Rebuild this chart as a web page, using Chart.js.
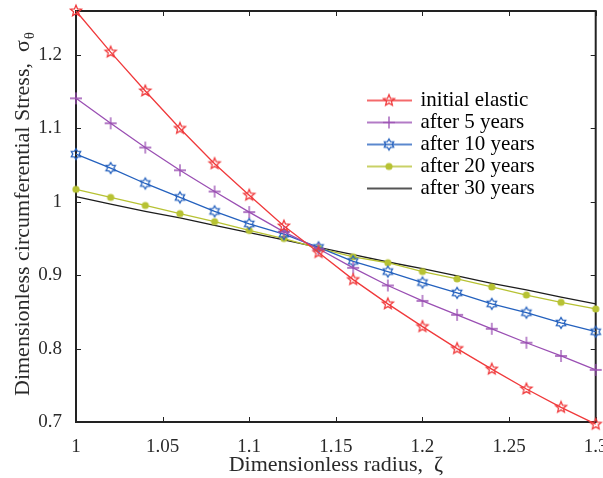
<!DOCTYPE html>
<html>
<head>
<meta charset="utf-8">
<script src="https://cdn.jsdelivr.net/npm/chart.js@4.4.1/dist/chart.umd.min.js"></script>
<style>
    html, body { margin: 0; padding: 0; background: #fff; overflow: hidden; }
    #wrap { width: 603px; height: 478px; }
</style>
</head>
<body>
<div id="wrap"><canvas id="StressChart"></canvas></div>
<script>
    // values
    var radius = [1, 1.02, 1.04, 1.06, 1.08, 1.10, 1.12, 1.14, 1.16, 1.18, 1.20, 1.22, 1.24, 1.26, 1.28, 1.30];
    var initialElastic = [1.260, 1.204, 1.151, 1.100, 1.052, 1.009, 0.967, 0.931, 0.894, 0.861, 0.830, 0.800, 0.772, 0.745, 0.720, 0.697];
    var after5Years  = [1.141, 1.107, 1.074, 1.043, 1.014, 0.986, 0.959, 0.936, 0.910, 0.886, 0.865, 0.846, 0.827, 0.808, 0.790, 0.771];
    var after10Years = [1.065, 1.046, 1.025, 1.006, 0.987, 0.970, 0.956, 0.938, 0.919, 0.905, 0.890, 0.876, 0.861, 0.849, 0.835, 0.823];
    var after20Years = [1.017, 1.006, 0.995, 0.984, 0.973, 0.961, 0.950, 0.937, 0.925, 0.917, 0.905, 0.895, 0.884, 0.873, 0.863, 0.854];
    var after30Years = [1.007, 0.997, 0.987, 0.978, 0.968, 0.958, 0.948, 0.938, 0.928, 0.918, 0.909, 0.899, 0.889, 0.880, 0.870, 0.861];
    var xTicks = [1, 1.05, 1.1, 1.15, 1.2, 1.25, 1.3];
    var yTicks = [0.7, 0.8, 0.9, 1, 1.1, 1.2];

    var RED = '#f0393b', PURPLE = '#9a4fb3', BLUE = '#2461be', OLIVE = '#b7c233', BLACK = '#1c1c1c';
    var FONT = "'Liberation Serif', 'DejaVu Serif', serif";
    var TEXT = '#2a2a2a';

    function starPath(g, cx, cy, n, rOut, rIn) {
        g.beginPath();
        for (var i = 0; i < n * 2; i++) {
            var r = i % 2 ? rIn : rOut;
            var a = -Math.PI / 2 + i * Math.PI / n;
            g.lineTo(cx + r * Math.cos(a), cy + r * Math.sin(a));
        }
        g.closePath();
    }

    function drawMarker(g, kind, cx, cy, color) {
        g.strokeStyle = color;
        g.fillStyle = color;
        g.lineWidth = 1.3;
        if (kind === 'penta') {
            starPath(g, cx, cy, 5, 5.8, 2.6);
            g.stroke();
        } else if (kind === 'hexa') {
            starPath(g, cx, cy, 6, 5.4, 3.2);
            g.stroke();
        } else if (kind === 'plus') {
            g.beginPath();
            g.moveTo(cx - 6, cy); g.lineTo(cx + 6, cy);
            g.moveTo(cx, cy - 6); g.lineTo(cx, cy + 6);
            g.stroke();
        } else if (kind === 'dot') {
            g.beginPath();
            g.arc(cx, cy, 3.6, 0, Math.PI * 2);
            g.fill();
        }
    }

    function markerImage(kind, color) {
        var c = document.createElement('canvas');
        c.width = 16; c.height = 16;
        drawMarker(c.getContext('2d'), kind, 8, 8, color);
        return c;
    }

    function legendIcon(kind, color) {
        var c = document.createElement('canvas');
        c.width = 46; c.height = 16;
        var g = c.getContext('2d');
        g.strokeStyle = color;
        g.lineWidth = 1.3;
        g.beginPath();
        g.moveTo(0, 8); g.lineTo(46, 8);
        g.stroke();
        drawMarker(g, kind, 23, 8, color);
        return c;
    }

    var seriesKinds = ['penta', 'plus', 'hexa', 'dot', 'none'];
    var seriesColors = [RED, PURPLE, BLUE, OLIVE, BLACK];
    var legendIcons = seriesKinds.map(function (k, i) { return legendIcon(k, seriesColors[i]); });

    function toPoints(ys) {
        return radius.map(function (x, i) { return { x: x, y: ys[i] }; });
    }

    function fmt(v) { return String(+v.toFixed(2)); }

    var framePlugin = {
        id: 'frame',
        beforeDatasetsDraw: function (chart) {
            var ctx = chart.ctx, a = chart.chartArea, xs = chart.scales.x, ys = chart.scales.y;
            ctx.save();
            ctx.strokeStyle = '#222';
            ctx.lineWidth = 1;
            ctx.beginPath();
            xs.ticks.forEach(function (t) {
                var px = Math.round(xs.getPixelForValue(t.value)) + 0.5;
                ctx.moveTo(px, a.bottom); ctx.lineTo(px, a.bottom - 5);
                ctx.moveTo(px, a.top); ctx.lineTo(px, a.top + 5);
            });
            ys.ticks.forEach(function (t) {
                var py = Math.round(ys.getPixelForValue(t.value)) + 0.5;
                ctx.moveTo(a.left, py); ctx.lineTo(a.left + 5, py);
                ctx.moveTo(a.right, py); ctx.lineTo(a.right - 5, py);
            });
            ctx.stroke();
            ctx.lineWidth = 2;
            ctx.strokeRect(a.left, a.top, a.right - a.left, a.bottom - a.top);
            ctx.restore();
        },
        afterDraw: function (chart) {
            // y axis title with subscript theta
            var ctx = chart.ctx;
            var main = 'Dimensionless circumferential Stress,  \u03C3';
            ctx.save();
            ctx.fillStyle = TEXT;
            ctx.translate(29, 396);
            ctx.rotate(-Math.PI / 2);
            ctx.textAlign = 'left';
            ctx.textBaseline = 'alphabetic';
            ctx.font = '22px ' + FONT;
            ctx.fillText(main, 0, 0);
            var w = ctx.measureText(main).width;
            ctx.font = '15px ' + FONT;
            ctx.fillText('\u03B8', w + 1, 5);
            ctx.restore();
        },
        afterLayout: function (chart) {
            var lg = chart.legend;
            lg.left = 367; lg.right = 590;
            lg.top = 89; lg.bottom = 280;
        }
    };

    var ctxStress = document.getElementById('StressChart');
    var StressChart = new Chart(ctxStress, {
        type: 'line',
        data: {
            datasets: [{
                label: 'initial elastic',
                data: toPoints(initialElastic),
                borderColor: RED,
                borderWidth: 1.3,
                pointStyle: markerImage('penta', RED),
                pointRadius: 6,
                clip: false
            }, {
                label: 'after 5 years',
                data: toPoints(after5Years),
                borderColor: PURPLE,
                borderWidth: 1.3,
                pointStyle: markerImage('plus', PURPLE),
                pointRadius: 6,
                clip: false
            }, {
                label: 'after 10 years',
                data: toPoints(after10Years),
                borderColor: BLUE,
                borderWidth: 1.3,
                pointStyle: markerImage('hexa', BLUE),
                pointRadius: 6,
                clip: false
            }, {
                label: 'after 20 years',
                data: toPoints(after20Years),
                borderColor: OLIVE,
                borderWidth: 1.3,
                pointStyle: markerImage('dot', OLIVE),
                pointRadius: 4,
                clip: false
            }, {
                label: 'after 30 years',
                data: toPoints(after30Years),
                borderColor: BLACK,
                borderWidth: 1.3,
                pointRadius: 0,
                clip: false
            }]
        },
        options: {
            responsive: true,
            maintainAspectRatio: false,
            animation: false,
            devicePixelRatio: 1,
            layout: { padding: { top: 11, right: 3, left: 0, bottom: 0 } },
            plugins: {
                tooltip: { enabled: false },
                legend: {
                    position: 'chartArea',
                    align: 'start',
                    labels: {
                        usePointStyle: true,
                        pointStyleWidth: 42,
                        boxHeight: 16,
                        padding: 1,
                        color: TEXT,
                        font: { family: FONT, size: 21 },
                        generateLabels: function (chart) {
                            return chart.data.datasets.map(function (ds, i) {
                                return {
                                    text: ds.label,
                                    pointStyle: legendIcons[i],
                                    fillStyle: 'rgba(0,0,0,0)',
                                    strokeStyle: 'rgba(0,0,0,0)',
                                    lineWidth: 0,
                                    datasetIndex: i,
                                    hidden: false
                                };
                            });
                        }
                    }
                }
            },
            scales: {
                x: {
                    type: 'linear',
                    min: 1,
                    max: 1.3,
                    grid: { display: false },
                    border: { display: false },
                    afterBuildTicks: function (s) { s.ticks = xTicks.map(function (v) { return { value: v }; }); },
                    afterFit: function (s) { s.height = 56; s.paddingRight = 0; s.paddingLeft = 0; },
                    ticks: {
                        padding: 6,
                        maxRotation: 0,
                        color: TEXT,
                        font: { family: FONT, size: 19 },
                        callback: function (v) { return fmt(v); }
                    },
                    title: {
                        display: true,
                        text: 'Dimensionless radius,  \u03B6',
                        color: TEXT,
                        font: { family: FONT, size: 22 },
                        padding: { top: 0, bottom: 0 }
                    }
                },
                y: {
                    type: 'linear',
                    min: 0.7,
                    max: 1.26,
                    grid: { display: false },
                    border: { display: false },
                    afterBuildTicks: function (s) { s.ticks = yTicks.map(function (v) { return { value: v }; }); },
                    afterFit: function (s) { s.width = 76; s.paddingTop = 0; s.paddingBottom = 0; },
                    ticks: {
                        padding: 6,
                        color: TEXT,
                        font: { family: FONT, size: 19 },
                        callback: function (v) { return fmt(v); }
                    }
                }
            }
        },
        plugins: [framePlugin]
    });
</script>
</body>
</html>
